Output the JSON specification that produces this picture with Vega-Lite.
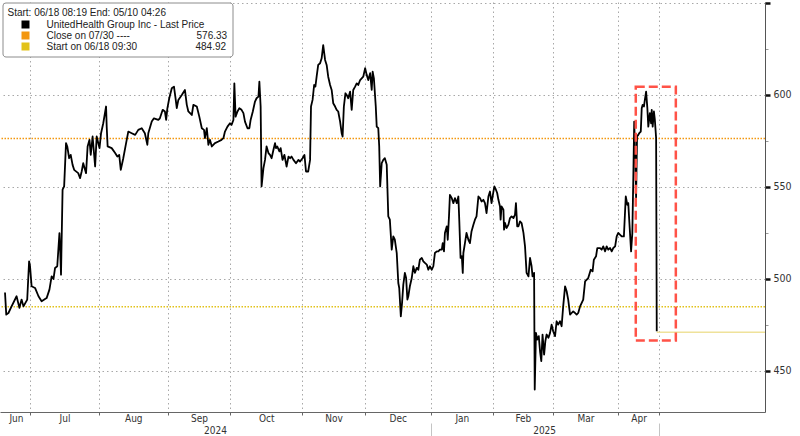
{
  "$schema": "https://vega.github.io/schema/vega-lite/v6.json",
  "width": 765,
  "height": 410,
  "autosize": {"type": "none"},
  "padding": {"left": 0, "top": 2, "right": 35, "bottom": 24},
  "background": "white",
  "config": {"view": {"stroke": null}, "font": "Liberation Sans", "style": {"guide-label": {"font": "Liberation Sans"}}},
  "datasets": {
    "px": [
      {"t":0.0,"p":492.6},{"t":0.4,"p":480.6},{"t":1.1,"p":481.5},{"t":2.1,"p":485.1},{"t":3.7,"p":490.6},{"t":4.6,"p":484.3},{"t":5.3,"p":488.8},{"t":5.9,"p":485.1},{"t":7.1,"p":488.8},{"t":7.7,"p":509.6},
      {"t":8.0,"p":506.9},{"t":8.5,"p":496.0},{"t":9.6,"p":495.1},{"t":10.7,"p":490.6},{"t":11.7,"p":487.9},{"t":12.8,"p":489.1},{"t":13.3,"p":489.6},{"t":14.2,"p":494.2},{"t":14.9,"p":501.4},{"t":15.5,"p":500.0},
      {"t":16.0,"p":506.0},{"t":16.7,"p":506.9},{"t":17.4,"p":524.9},{"t":17.6,"p":517.7},{"t":17.9,"p":502.3},{"t":18.4,"p":548.5},{"t":18.9,"p":550.3},{"t":19.5,"p":573.8},{"t":19.9,"p":572.0},{"t":20.5,"p":565.6},
      {"t":21.0,"p":567.4},{"t":21.6,"p":562.0},{"t":22.1,"p":559.3},{"t":23.4,"p":557.5},{"t":24.0,"p":554.8},{"t":24.5,"p":558.4},{"t":25.0,"p":562.9},{"t":25.9,"p":557.5},{"t":26.4,"p":572.0},{"t":27.0,"p":575.6},
      {"t":27.4,"p":567.4},{"t":28.0,"p":577.4},{"t":28.8,"p":561.1},{"t":29.3,"p":577.4},{"t":30.2,"p":571.1},{"t":30.7,"p":579.2},{"t":31.4,"p":584.6},{"t":32.3,"p":593.7},{"t":32.5,"p":582.8},{"t":32.8,"p":572.0},
      {"t":34.1,"p":571.1},{"t":35.2,"p":568.4},{"t":35.9,"p":566.5},{"t":36.5,"p":567.4},{"t":37.0,"p":559.3},{"t":37.8,"p":565.6},{"t":38.7,"p":573.8},{"t":39.4,"p":580.1},{"t":40.5,"p":579.2},{"t":41.6,"p":578.3},
      {"t":42.6,"p":581.0},{"t":43.7,"p":581.9},{"t":44.7,"p":579.2},{"t":45.5,"p":572.9},{"t":45.8,"p":579.2},{"t":46.9,"p":585.5},{"t":47.6,"p":587.3},{"t":49.0,"p":586.4},{"t":49.5,"p":587.3},{"t":50.4,"p":591.9},
      {"t":51.1,"p":591.0},{"t":51.5,"p":586.4},{"t":51.9,"p":592.8},{"t":52.5,"p":598.2},{"t":53.3,"p":603.6},{"t":54.0,"p":604.5},{"t":54.5,"p":598.2},{"t":54.9,"p":592.8},{"t":55.4,"p":597.3},{"t":56.5,"p":600.0},
      {"t":57.5,"p":602.7},{"t":58.1,"p":594.6},{"t":58.6,"p":591.0},{"t":59.7,"p":589.1},{"t":60.2,"p":594.6},{"t":61.3,"p":593.7},{"t":62.1,"p":588.2},{"t":62.9,"p":581.9},{"t":63.6,"p":581.0},{"t":63.9,"p":576.5},
      {"t":64.5,"p":581.9},{"t":65.0,"p":572.9},{"t":65.5,"p":575.6},{"t":66.1,"p":572.0},{"t":67.1,"p":573.8},{"t":68.2,"p":574.7},{"t":69.2,"p":575.6},{"t":69.8,"p":576.5},{"t":70.3,"p":580.1},{"t":71.1,"p":582.8},
      {"t":71.9,"p":584.6},{"t":72.4,"p":583.7},{"t":73.0,"p":586.4},{"t":73.3,"p":606.3},{"t":73.7,"p":588.2},{"t":74.3,"p":591.0},{"t":74.9,"p":592.8},{"t":75.6,"p":591.9},{"t":76.2,"p":590.1},{"t":76.7,"p":585.5},
      {"t":77.5,"p":581.9},{"t":78.1,"p":581.9},{"t":78.5,"p":586.4},{"t":79.2,"p":591.0},{"t":79.9,"p":596.4},{"t":80.4,"p":598.2},{"t":81.0,"p":599.1},{"t":81.3,"p":607.2},{"t":81.7,"p":593.7},{"t":82.0,"p":550.3},
      {"t":82.6,"p":560.2},{"t":83.1,"p":564.7},{"t":83.6,"p":572.0},{"t":84.2,"p":568.4},{"t":84.7,"p":567.4},{"t":85.2,"p":565.6},{"t":85.8,"p":570.2},{"t":86.3,"p":573.8},{"t":86.6,"p":571.1},{"t":87.0,"p":572.0},
      {"t":87.7,"p":569.3},{"t":88.1,"p":571.1},{"t":88.7,"p":564.7},{"t":89.3,"p":567.4},{"t":90.0,"p":561.1},{"t":90.6,"p":566.5},{"t":91.1,"p":565.6},{"t":91.6,"p":566.5},{"t":92.2,"p":564.7},{"t":93.0,"p":562.9},
      {"t":93.8,"p":564.7},{"t":94.3,"p":563.8},{"t":95.1,"p":565.6},{"t":95.7,"p":567.4},{"t":96.2,"p":558.4},{"t":96.9,"p":558.4},{"t":97.5,"p":564.7},{"t":97.8,"p":593.7},{"t":98.3,"p":597.3},{"t":98.8,"p":605.4},
      {"t":99.2,"p":604.5},{"t":99.6,"p":609.9},{"t":100.1,"p":616.3},{"t":100.7,"p":617.2},{"t":101.2,"p":619.9},{"t":101.7,"p":627.1},{"t":102.3,"p":619.0},{"t":102.8,"p":616.3},{"t":103.3,"p":609.9},{"t":103.9,"p":605.4},
      {"t":104.4,"p":602.7},{"t":104.9,"p":595.5},{"t":105.5,"p":593.7},{"t":106.0,"p":591.9},{"t":106.5,"p":591.0},{"t":107.1,"p":585.5},{"t":107.6,"p":579.2},{"t":107.9,"p":577.4},{"t":108.3,"p":593.7},{"t":108.8,"p":600.9},
      {"t":109.2,"p":600.0},{"t":109.7,"p":598.2},{"t":110.3,"p":601.8},{"t":110.8,"p":591.9},{"t":111.3,"p":602.7},{"t":111.9,"p":604.5},{"t":112.4,"p":606.3},{"t":112.9,"p":605.4},{"t":113.5,"p":608.1},{"t":114.0,"p":609.0},
      {"t":114.5,"p":609.9},{"t":115.1,"p":614.5},{"t":115.6,"p":610.9},{"t":116.1,"p":608.1},{"t":116.7,"p":611.8},{"t":117.2,"p":602.7},{"t":117.5,"p":612.6},{"t":117.9,"p":609.0},{"t":118.5,"p":593.7},{"t":118.8,"p":582.8},
      {"t":119.3,"p":581.9},{"t":119.6,"p":572.0},{"t":119.9,"p":550.3},{"t":120.4,"p":562.9},{"t":120.9,"p":564.7},{"t":121.4,"p":565.6},{"t":122.0,"p":562.0},{"t":122.5,"p":534.0},{"t":123.0,"p":532.2},{"t":123.6,"p":515.9},
      {"t":124.1,"p":523.1},{"t":124.6,"p":521.3},{"t":125.2,"p":514.1},{"t":125.7,"p":497.8},{"t":126.0,"p":495.1},{"t":126.5,"p":479.7},{"t":126.9,"p":487.0},{"t":127.3,"p":496.9},{"t":127.8,"p":503.3},{"t":128.2,"p":500.5},
      {"t":128.6,"p":488.8},{"t":128.9,"p":490.6},{"t":129.4,"p":496.0},{"t":130.0,"p":500.5},{"t":130.5,"p":506.9},{"t":131.0,"p":503.3},{"t":131.6,"p":506.0},{"t":132.1,"p":505.0},{"t":132.6,"p":510.5},{"t":133.2,"p":511.4},
      {"t":133.7,"p":509.6},{"t":134.2,"p":508.7},{"t":134.8,"p":507.8},{"t":135.3,"p":505.0},{"t":135.8,"p":506.9},{"t":136.4,"p":505.0},{"t":136.9,"p":506.9},{"t":137.4,"p":514.1},{"t":138.0,"p":515.0},{"t":138.5,"p":515.0},
      {"t":139.0,"p":515.9},{"t":139.6,"p":515.9},{"t":139.9,"p":519.5},{"t":140.3,"p":515.0},{"t":140.6,"p":525.0},{"t":141.2,"p":528.6},{"t":141.5,"p":521.3},{"t":141.9,"p":534.0},{"t":142.2,"p":545.7},{"t":142.8,"p":543.9},
      {"t":143.3,"p":541.2},{"t":143.8,"p":543.9},{"t":144.4,"p":541.2},{"t":144.9,"p":544.8},{"t":145.2,"p":531.3},{"t":145.6,"p":511.4},{"t":146.0,"p":512.3},{"t":146.3,"p":503.3},{"t":146.5,"p":514.1},{"t":147.0,"p":519.5},
      {"t":147.5,"p":525.0},{"t":148.1,"p":521.3},{"t":148.6,"p":519.5},{"t":149.1,"p":525.8},{"t":149.7,"p":529.5},{"t":150.2,"p":532.2},{"t":150.7,"p":534.0},{"t":151.3,"p":544.8},{"t":151.8,"p":543.9},{"t":152.3,"p":542.1},
      {"t":152.9,"p":543.0},{"t":153.4,"p":541.2},{"t":153.9,"p":535.8},{"t":154.5,"p":544.8},{"t":155.0,"p":547.5},{"t":155.5,"p":541.2},{"t":156.1,"p":547.5},{"t":156.4,"p":550.3},{"t":156.9,"p":548.5},{"t":157.3,"p":546.7},
      {"t":157.7,"p":543.0},{"t":158.2,"p":539.4},{"t":158.4,"p":532.2},{"t":158.7,"p":539.4},{"t":159.3,"p":537.6},{"t":159.5,"p":526.8},{"t":159.8,"p":530.4},{"t":160.3,"p":527.7},{"t":160.9,"p":529.5},{"t":161.4,"p":533.1},
      {"t":161.9,"p":534.0},{"t":162.5,"p":533.1},{"t":163.0,"p":534.9},{"t":163.3,"p":541.2},{"t":163.7,"p":528.6},{"t":164.1,"p":528.6},{"t":164.6,"p":531.3},{"t":165.1,"p":530.4},{"t":165.7,"p":525.0},{"t":166.2,"p":517.7},
      {"t":166.7,"p":503.3},{"t":167.3,"p":501.4},{"t":167.8,"p":511.4},{"t":168.3,"p":506.9},{"t":168.6,"p":501.4},{"t":169.1,"p":503.3},{"t":169.3,"p":439.9},{"t":169.7,"p":470.7},{"t":170.1,"p":467.1},{"t":170.6,"p":468.9},
      {"t":171.0,"p":460.7},{"t":171.4,"p":455.3},{"t":171.8,"p":469.8},{"t":172.3,"p":458.9},{"t":172.7,"p":466.2},{"t":173.1,"p":469.8},{"t":173.7,"p":468.0},{"t":174.2,"p":470.7},{"t":174.7,"p":475.2},{"t":175.2,"p":471.6},
      {"t":175.8,"p":468.9},{"t":176.3,"p":477.0},{"t":176.8,"p":475.2},{"t":177.4,"p":477.0},{"t":177.9,"p":474.3},{"t":178.4,"p":485.1},{"t":179.0,"p":496.0},{"t":179.5,"p":493.3},{"t":180.0,"p":488.8},{"t":180.6,"p":480.6},
      {"t":181.1,"p":481.5},{"t":181.6,"p":482.4},{"t":182.2,"p":481.5},{"t":182.7,"p":480.6},{"t":183.2,"p":481.5},{"t":183.8,"p":485.1},{"t":184.8,"p":488.8},{"t":185.4,"p":498.7},{"t":186.4,"p":500.5},{"t":187.2,"p":505.0},
      {"t":187.8,"p":504.1},{"t":188.2,"p":510.5},{"t":188.9,"p":512.3},{"t":189.3,"p":516.8},{"t":190.2,"p":516.8},{"t":190.7,"p":515.9},{"t":191.2,"p":517.7},{"t":191.8,"p":515.0},{"t":192.3,"p":517.7},{"t":192.8,"p":515.9},
      {"t":193.4,"p":516.8},{"t":193.9,"p":515.0},{"t":194.4,"p":516.8},{"t":195.0,"p":517.7},{"t":195.5,"p":523.1},{"t":196.0,"p":525.0},{"t":196.6,"p":524.0},{"t":197.1,"p":523.1},{"t":197.8,"p":523.1},{"t":198.4,"p":544.8},
      {"t":198.9,"p":540.3},{"t":199.2,"p":541.2},{"t":199.5,"p":532.2},{"t":200.1,"p":515.0},{"t":200.5,"p":525.0},{"t":200.8,"p":553.9},{"t":201.1,"p":585.5},{"t":201.5,"p":561.1},{"t":201.7,"p":543.9},{"t":202.0,"p":577.4},
      {"t":202.4,"p":578.3},{"t":202.7,"p":579.2},{"t":203.2,"p":580.1},{"t":203.5,"p":592.8},{"t":203.8,"p":594.6},{"t":204.2,"p":593.7},{"t":204.5,"p":597.3},{"t":204.9,"p":601.8},{"t":205.3,"p":592.8},{"t":205.6,"p":582.8},
      {"t":206.1,"p":590.1},{"t":206.5,"p":584.6},{"t":206.7,"p":591.9},{"t":207.0,"p":582.8},{"t":207.4,"p":591.0},{"t":207.7,"p":586.4},{"t":208.1,"p":576.5},{"t":208.3,"p":471.6}
    ]
  },
  "layer": [
    {
      "data": {"values": [{}]},
      "mark": {"type": "rule", "color": "#f3970f", "strokeDash": [1.5, 1.5], "strokeWidth": 1.4},
      "encoding": {
        "y": {"datum": 576.33, "type": "quantitative",
          "scale": {"domain": [427.7, 650.5], "nice": false, "zero": false},
          "axis": {"orient": "right", "values": [475, 525, 575, 625], "labels": false, "grid": false, "domain": false, "ticks": true, "tickSize": 3, "tickColor": "#999999", "title": null}}
      }
    },
    {
      "data": {"values": [{}]},
      "mark": {"type": "rule", "color": "#e2c21a", "strokeDash": [1.5, 1.5], "strokeWidth": 1.6},
      "encoding": {
        "y": {"datum": 484.92, "type": "quantitative",
          "scale": {"domain": [427.7, 650.5], "nice": false, "zero": false}, "axis": null}
      }
    },
    {
      "data": {"values": [{"t": 208.3, "p": 471.0}, {"t": 242.9, "p": 471.0}]},
      "mark": {"type": "line", "color": "#efe29a", "strokeWidth": 1.5},
      "encoding": {
        "x": {"field": "t", "type": "quantitative",
          "scale": {"domain": [-1.6, 242.9], "nice": false, "zero": false},
          "axis": {"orient": "bottom", "values": [3.5, 19, 41, 62, 83.5, 105, 125.5, 146, 165.5, 185.5, 202.5],
            "labelExpr": "['Jun','Jul','Aug','Sep','Oct','Nov','Dec','Jan','Feb','Mar','Apr'][indexof([3.5,19,41,62,83.5,105,125.5,146,165.5,185.5,202.5], datum.value)]",
            "ticks": false, "tickSize": 0, "domain": false, "grid": false, "labelPadding": 1.5, "labelFlush": false, "labelOverlap": false,
            "labelFont": "Liberation Sans Narrow, DejaVu Sans Condensed, Liberation Sans", "labelFontSize": 10, "labelColor": "#333333", "title": null}},
        "y": {"field": "p", "type": "quantitative",
          "scale": {"domain": [427.7, 650.5], "nice": false, "zero": false}, "axis": null}
      }
    },
    {
      "data": {"name": "px"},
      "mark": {"type": "line", "strokeWidth": 1.8, "strokeJoin": "round"},
      "encoding": {
        "x": {"field": "t", "type": "quantitative",
          "scale": {"domain": [-1.6, 242.9], "nice": false, "zero": false},
          "axis": {"orient": "bottom", "values": [8, 30, 52, 72, 95, 115, 136, 156, 175, 196, 209], "labels": false,
            "grid": true, "gridDash": [1.5, 3], "gridColor": "#a8a8a8", "gridWidth": 1,
            "ticks": true, "tickSize": 3, "tickColor": "#666666", "domain": true, "domainColor": "#666666", "domainWidth": 1, "title": null}},
        "y": {"field": "p", "type": "quantitative",
          "scale": {"domain": [427.7, 650.5], "nice": false, "zero": false},
          "axis": {"orient": "right", "values": [450, 500, 550, 600, 650],
            "grid": true, "gridDash": [1.5, 3], "gridColor": "#a8a8a8", "gridWidth": 1,
            "ticks": true, "tickSize": 5, "tickWidth": 2.5, "tickColor": "#111111",
            "domain": true, "domainColor": "#555555", "domainWidth": 1,
            "labelExpr": "datum.value == 650 ? '' : datum.label", "labelPadding": 3,
            "labelFont": "Liberation Sans Narrow, DejaVu Sans Condensed, Liberation Sans", "labelFontSize": 10.5, "labelColor": "#333333", "title": null}},
        "color": {"datum": "UnitedHealth Group Inc - Last Price", "type": "nominal",
          "scale": {"domain": ["UnitedHealth Group Inc - Last Price", "Close on 07/30 ----", "Start on 06/18 09:30"], "range": ["#000000", "#f3970f", "#e2c21a"]},
          "legend": {
            "title": "Start: 06/18 08:19 End: 05/10 04:26",
            "orient": "none", "legendX": 2.5, "legendY": 0.5,
            "padding": 5, "cornerRadius": 3, "strokeColor": "#8c8c8c", "fillColor": "#ffffff",
            "titleFont": "Liberation Sans", "titleFontSize": 10, "titleFontWeight": "normal", "titleColor": "#222222", "titlePadding": 2, "titleLimit": 400,
            "labelFont": "Liberation Sans", "labelFontSize": 10, "labelColor": "#222222", "labelLimit": 400,
            "symbolType": "square", "symbolSize": 64, "symbolOffset": 13, "labelOffset": 16, "symbolStrokeWidth": 0,
            "rowPadding": 1,
            "labelExpr": "datum.label == 'Close on 07/30 ----' ? datum.label + '\u00a0\u00a0\u00a0\u00a0\u00a0\u00a0\u00a0\u00a0\u00a0\u00a0\u00a0\u00a0\u00a0\u00a0\u00a0\u00a0\u00a0\u00a0\u00a0\u00a0\u00a0\u00a0\u00a0\u00a0576.33' : datum.label == 'Start on 06/18 09:30' ? datum.label + '\u00a0\u00a0\u00a0\u00a0\u00a0\u00a0\u00a0\u00a0\u00a0\u00a0\u00a0\u00a0\u00a0\u00a0\u00a0\u00a0\u00a0\u00a0\u00a0\u00a0\u00a0484.92' : datum.label",
            "encode": {
              "symbols": {"update": {"fill": {"scale": "color", "field": "value"}, "stroke": {"value": "transparent"}, "shape": {"value": "square"}, "opacity": {"value": 1}, "fillOpacity": {"value": 1}, "strokeDash": {"value": []}}}}
          }}
      }
    },
    {
      "data": {"values": [{}]},
      "mark": {"type": "rect", "filled": false, "stroke": "#ff5247", "strokeWidth": 2.5, "strokeDash": [9, 4]},
      "encoding": {
        "x": {"datum": 201.6, "type": "quantitative",
          "scale": {"domain": [-1.6, 242.9], "nice": false, "zero": false},
          "axis": {"orient": "bottom", "values": [67.1, 136, 172.3, 209], "offset": 11,
            "ticks": true, "tickSize": 13, "tickWidth": 1,
            "tickColor": {"condition": {"test": "datum.value == 136 || datum.value == 209", "value": "#c4c4c4"}, "value": "transparent"},
            "labelExpr": "datum.value == 67.1 ? '2024' : datum.value == 172.3 ? '2025' : ''",
            "labelPadding": -11, "labelFlush": false, "labelOverlap": false, "domain": false, "grid": false,
            "labelFont": "Liberation Sans Narrow, DejaVu Sans Condensed, Liberation Sans", "labelFontSize": 10, "labelColor": "#333333", "title": null}},
        "x2": {"datum": 214.4},
        "y": {"datum": 604.5, "type": "quantitative",
          "scale": {"domain": [427.7, 650.5], "nice": false, "zero": false}, "axis": null},
        "y2": {"datum": 466.5}
      }
    }
  ],
  "resolve": {"axis": {"x": "independent", "y": "independent"}}
}
